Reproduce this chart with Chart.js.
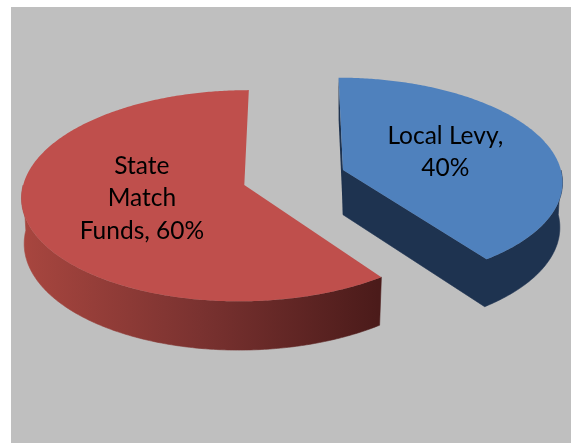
<!DOCTYPE html>
<html>
<head>
<meta charset="utf-8">
<title>Funding split</title>
<script src="https://cdn.jsdelivr.net/npm/chart.js@4"></script>
<style>
    html, body { margin: 0; padding: 0; background: #ffffff; }
    canvas { display: block; }
</style>
</head>
<body>
<canvas id="myChart" width="571" height="443"></canvas>
<script>
const labels = ['Local Levy', 'State Match Funds'];
const values = [40, 60];
const topColors = ['#4f81bd', '#bf4f4c'];
const labelLines = [
    [labels[0] + ',', values[0] + '%'],
    ['State', 'Match', 'Funds, ' + values[1] + '%']
];

// tilted view of the flat pie, front of the disc is a bit larger
const view = { cx: 294, cy: 177.5, rx: 219.5, ry: 103, persp: 0.1, depth: 45, shrink: 0.988 };

function project(arc, angle, r, low) {
    const mid = (arc.startAngle + arc.endAngle) / 2;
    const e = arc.options.offset / arc.outerRadius;
    const rr = low ? r * view.shrink : r;
    const X = e * Math.cos(mid) + rr * Math.cos(angle);
    const Y = e * Math.sin(mid) + rr * Math.sin(angle);
    const f = 1 / (1 - view.persp * Y);
    return {
        x: view.cx + X * view.rx * f,
        y: view.cy + Y * view.ry * f + (low ? view.depth * f : 0)
    };
}

function trace(ctx, points) {
    ctx.beginPath();
    points.forEach((p, i) => {
        if (i === 0) ctx.moveTo(p.x, p.y);
        else ctx.lineTo(p.x, p.y);
    });
    ctx.closePath();
}

function rim(arc, from, to, low) {
    const pts = [];
    const steps = Math.ceil((to - from) * 90);
    for (let i = 0; i <= steps; i++) {
        pts.push(project(arc, from + (to - from) * i / steps, 1, low));
    }
    return pts;
}

function wallStyle(ctx, index) {
    if (index === 0) return '#1e3350';
    const g = ctx.createLinearGradient(22, 0, 378, 0);
    g.addColorStop(0, '#a8463f');
    g.addColorStop(0.5, '#7a3230');
    g.addColorStop(1, '#4b1b1a');
    return g;
}

const pie3d = {
    id: 'pie3d',
    beforeDraw(chart) {
        const ctx = chart.ctx;
        ctx.fillStyle = '#ffffff';
        ctx.fillRect(0, 0, chart.width, chart.height);
        ctx.fillStyle = '#bfbfbf';
        ctx.fillRect(11, 7, chart.width - 11, chart.height - 7);
    },
    // the arcs are drawn below through project(), so skip the flat ones
    beforeDatasetDraw() {
        return false;
    },
    afterDatasetsDraw(chart) {
        const ctx = chart.ctx;
        chart.getDatasetMeta(0).data.forEach((arc, i) => {
            const start = arc.startAngle;
            const end = arc.endAngle;
            const top = rim(arc, start, end, false);
            const tipTop = project(arc, 0, 0, false);
            const tipLow = project(arc, 0, 0, true);
            const style = wallStyle(ctx, i);
            const from = Math.max(start, 0);
            const to = Math.min(end, Math.PI);
            const wallTop = rim(arc, from, to, false);
            const wallLow = rim(arc, from, to, true).reverse();
            ctx.lineWidth = 0.6;
            ctx.fillStyle = style;
            ctx.strokeStyle = style;

            // blue slice shows its cut faces, joined to the wall in one shape
            if (i === 0) {
                trace(ctx, [tipTop, tipLow, project(arc, start, 1, true), top[0]]);
                ctx.fill();
                trace(ctx, [tipTop, tipLow].concat(wallLow, wallTop));
            } else {
                trace(ctx, wallTop.concat(wallLow));
            }
            ctx.fill();
            ctx.stroke();

            // top face
            ctx.fillStyle = topColors[i];
            trace(ctx, [tipTop].concat(top));
            ctx.fill();

            // label
            const c = project(arc, (start + end) / 2, 0.49, false);
            ctx.fillStyle = '#000000';
            ctx.font = '24.5px Lato, "Open Sans", sans-serif';
            ctx.textAlign = 'center';
            ctx.textBaseline = 'middle';
            const lines = labelLines[i];
            lines.forEach((line, n) => {
                ctx.fillText(line, c.x + 3, c.y - 3 + (n - (lines.length - 1) / 2) * 32.5);
            });
        });
    }
};

new Chart(document.getElementById('myChart').getContext('2d'), {
    type: 'pie',
    data: {
        labels: labels,
        datasets: [{
            data: values,
            backgroundColor: topColors,
            borderWidth: 0,
            offset: 52
        }]
    },
    options: {
        responsive: false,
        animation: false,
        radius: 220,
        plugins: {
            legend: { display: false },
            tooltip: { enabled: false }
        }
    },
    plugins: [pie3d]
});
</script>
</body>
</html>
